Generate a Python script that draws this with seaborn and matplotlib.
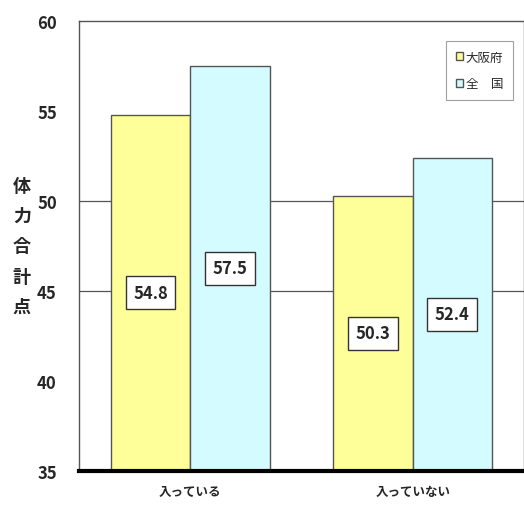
import numpy as np
import pandas as pd
import matplotlib

matplotlib.use('Agg')
import matplotlib.pyplot as plt
import seaborn as sns

# データ
categories = ['入っている', '入っていない']
series_names = ['大阪府', '全　国']
osaka_values = [54.8, 50.3]
national_values = [57.5, 52.4]
y_ticks = [35, 40, 45, 50, 55, 60]

sns.set_theme(style='white')
plt.rcParams['font.family'] = ['Noto Sans CJK JP', 'DejaVu Sans']

df = pd.DataFrame({
    'category': categories * 2,
    'series': [series_names[0]] * 2 + [series_names[1]] * 2,
    'value': osaka_values + national_values,
})

fig = plt.figure(figsize=(5.24, 5.10), dpi=100)
ax = fig.add_axes([0.1508, 0.0745, 0.8492, 0.8824])

palette = {series_names[0]: '#FFFF99', series_names[1]: '#D4FBFF'}
sns.barplot(data=df, x='category', y='value', hue='series', palette=palette,
            saturation=1, width=0.713, edgecolor='#555555', linewidth=1.0,
            ax=ax, zorder=2)

# グリッド線（45, 50 のみ）
for yv in [45, 50]:
    ax.axhline(yv, color='#555555', linewidth=0.9, zorder=1)

ax.set_ylim(35, 60)
ax.set_xlim(-0.5, 1.5)
ax.set_yticks(y_ticks)
ax.set_yticklabels([str(t) for t in y_ticks], fontsize=12, fontweight='bold')
ax.set_xticks([0, 1])
ax.set_xticklabels(categories, fontsize=9, fontweight='bold')
ax.tick_params(axis='y', length=0, pad=16)
ax.tick_params(axis='x', length=0, pad=10)
ax.set_xlabel('')
ax.set_ylabel('体\n力\n合\n計\n点', rotation=0, fontsize=13, fontweight='bold',
              linespacing=1.75, va='center', labelpad=11)

for side in ['left', 'top', 'right']:
    ax.spines[side].set_color('#555555')
    ax.spines[side].set_linewidth(1.0)
ax.spines['bottom'].set_color('black')
ax.spines['bottom'].set_linewidth(3)

# 値ラベル（棒の中央）
for container in ax.containers:
    for bar in container:
        h = bar.get_height()
        ax.text(bar.get_x() + bar.get_width() / 2, (35 + h) / 2, f'{h:.1f}',
                ha='center', va='center', fontsize=12, fontweight='bold', zorder=5,
                bbox=dict(boxstyle='square,pad=0.45', facecolor='white',
                          edgecolor='#333333', linewidth=1.0))

leg = ax.legend(loc='upper right', bbox_to_anchor=(0.99, 0.97), fontsize=9,
                frameon=True, fancybox=False, handlelength=0.6, handleheight=0.6,
                handletextpad=0.2, borderpad=0.8, labelspacing=1.1)
leg.get_frame().set_edgecolor('#888888')
leg.get_frame().set_linewidth(0.8)

fig.savefig('out.png', dpi=100)
